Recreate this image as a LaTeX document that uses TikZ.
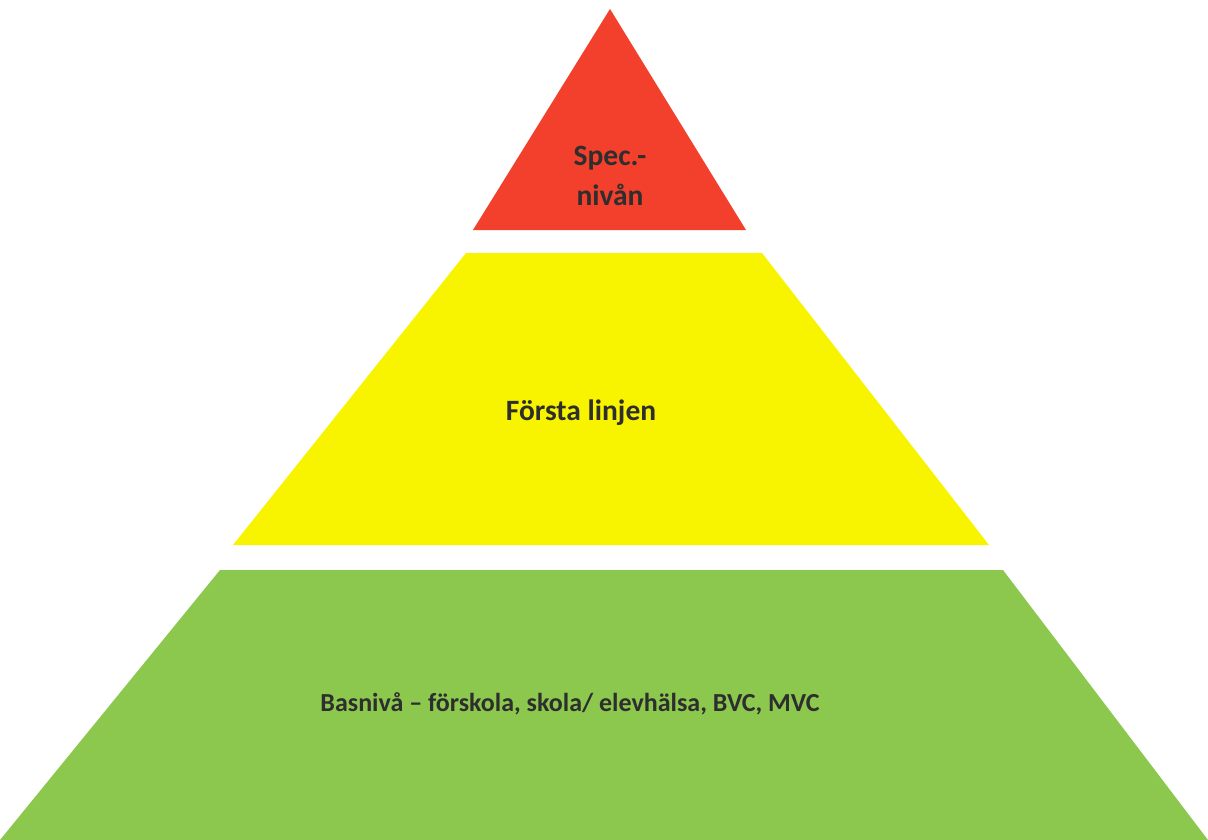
\documentclass[tikz,border=0pt]{standalone}
\usepackage{fontspec}
\setmainfont{Carlito}
\usetikzlibrary{calc}
\definecolor{specred}{HTML}{F2402C}
\definecolor{firstyellow}{HTML}{F8F400}
\definecolor{basegreen}{HTML}{8CC84E}
\tikzset{
  level layer/.style={draw=none},
  spec layer/.style={level layer, fill=specred},
  first layer/.style={level layer, fill=firstyellow},
  base layer/.style={level layer, fill=basegreen},
  level label/.style={align=center, text=black!82, font=\fontsize{29.5}{40}\selectfont\bfseries, inner sep=0pt},
}
\begin{document}
\begin{tikzpicture}[x=1pt, y=-1pt]
  \useasboundingbox[fill=white] (0,0) rectangle (1208,840);
  % top level
  \fill[spec layer] (610,9) -- (746,230) -- (473,230) -- cycle;
  % middle level
  \fill[first layer] (466,253) -- (762,253) -- (989,545) -- (233,545) -- cycle;
  % bottom level
  \fill[base layer] (220,570) -- (1003,570) -- (1208,840) -- (0,840) -- cycle;
  \node[level label] (spec) at (610,176) {Spec.-\\nivån};
  \node[level label] (first) at (581,413) {Första linjen};
  \node[level label, font=\fontsize{26}{32}\selectfont\bfseries] (base) at (570,704) {Basnivå – förskola, skola/ elevhälsa, BVC, MVC};
\end{tikzpicture}
\end{document}
